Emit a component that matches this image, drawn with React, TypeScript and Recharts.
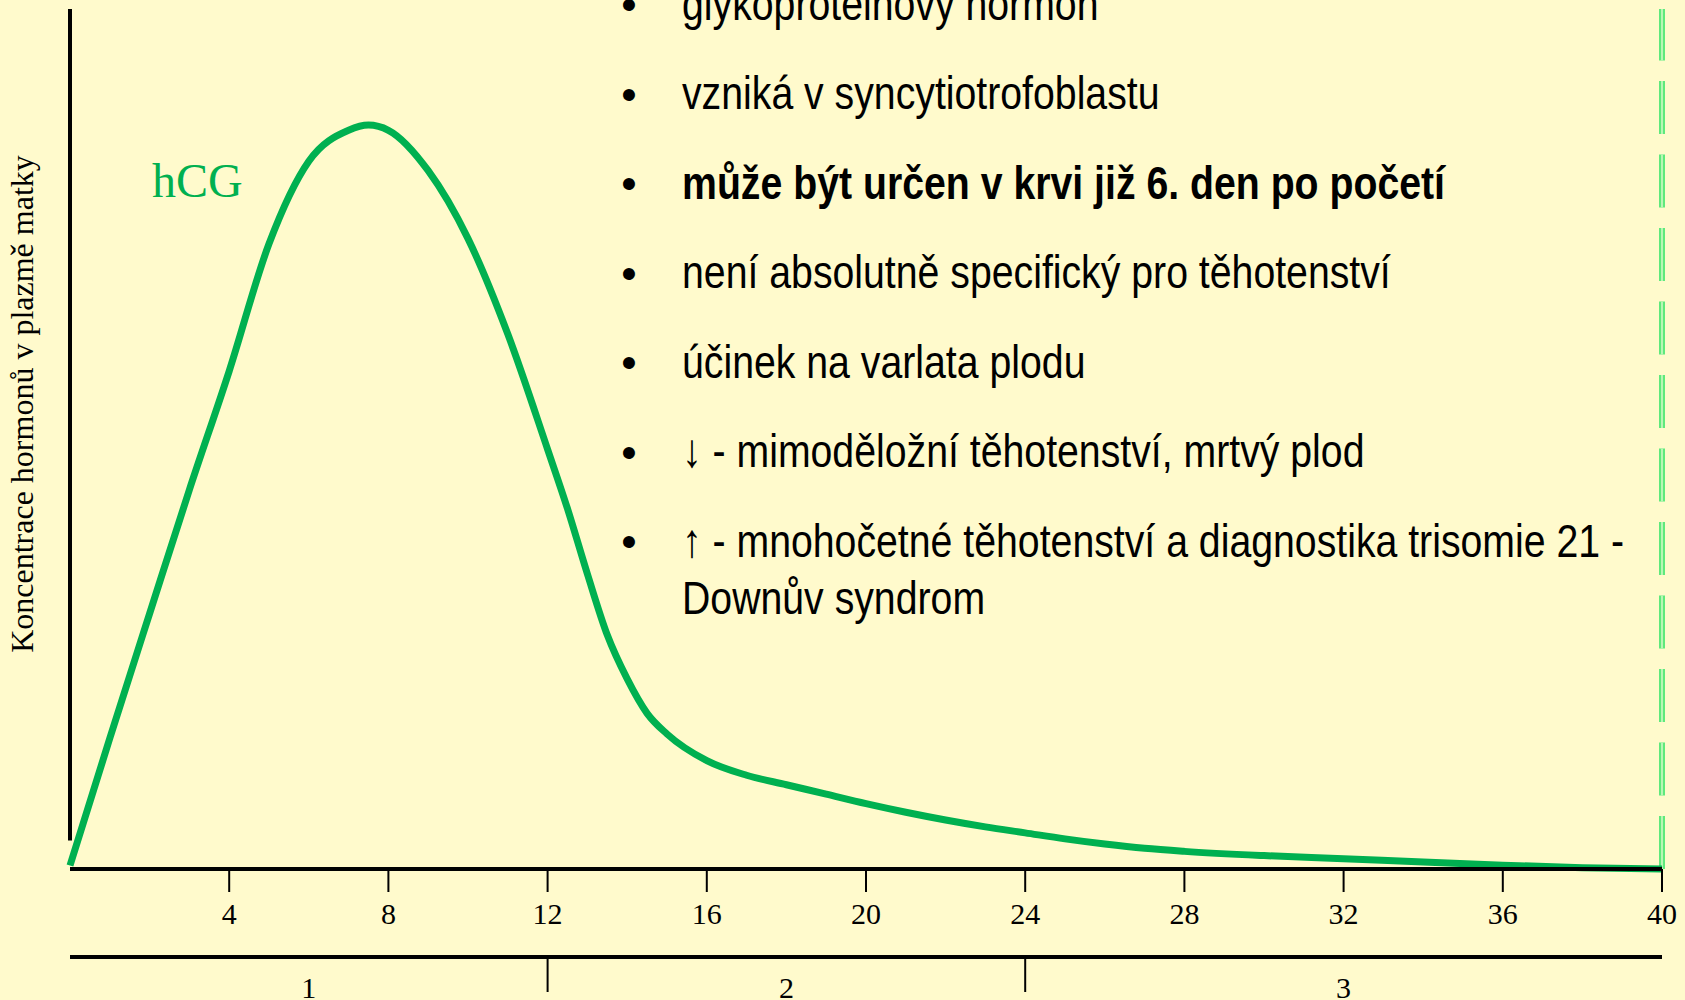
import React from 'react';
import { LineChart, Line, XAxis, YAxis, ReferenceLine, Customized } from 'recharts';

// Gestational week (x) and hCG concentration in arbitrary units (y, 0–100)
const weeks = [0, 1, 2, 3, 4, 5, 6, 7, 7.5, 8, 9, 10, 11, 12, 12.5, 13, 13.5, 14, 14.5, 15, 16, 17, 18, 19, 20, 21, 22, 23, 24, 25, 26, 27, 28, 30, 32, 34, 36, 38, 40];
const hcgLevels = [0.4, 15.2, 29.7, 44.1, 57.9, 72.7, 82.3, 85.9, 86.5, 85.9, 81.2, 73.3, 62.2, 48.8, 41.9, 34.3, 27.2, 22.1, 18.1, 15.7, 12.6, 10.9, 9.8, 8.7, 7.6, 6.6, 5.7, 4.9, 4.2, 3.5, 2.9, 2.4, 2.05, 1.56, 1.2, 0.8, 0.45, 0.15, 0];

const weekTicks = [4, 8, 12, 16, 20, 24, 28, 32, 36, 40];
const trimesterBoundaries = [12, 24];
const trimesterMidpoints = [6, 18, 32];
const trimesterNames = ['1', '2', '3'];

const seriesLabel = 'hCG';
const yAxisTitle = 'Koncentrace hormonů v plazmě matky';
const bulletLines = [
  'glykoproteinový hormon',
  'vzniká v syncytiotrofoblastu',
  'může být určen v krvi již 6. den po početí',
  'není absolutně specifický pro těhotenství',
  'účinek na varlata plodu',
  '↓ - mimoděložní těhotenství, mrtvý plod',
  '↑ - mnohočetné těhotenství a diagnostika trisomie 21 -',
];
const bulletContinuation = 'Downův syndrom';
const boldBulletIndex = 2;

const chartData = weeks.map((w, i) => ({ week: w, hcg: hcgLevels[i] }));

const GREEN = '#00B050';
const BG = '#FFFACC';
const SANS = "'Liberation Sans', Arial, sans-serif";
const SERIF = "'Liberation Serif', 'Times New Roman', serif";

const TrimesterTick = (props: any) => {
  const { x, y, payload } = props;
  const v = payload.value;
  if (trimesterBoundaries.includes(v)) {
    return <line x1={x} x2={x} y1={y} y2={y + 35} stroke="#000" strokeWidth={2} />;
  }
  const idx = trimesterMidpoints.indexOf(v);
  if (idx < 0) return null;
  return (
    <text x={x} y={y + 41} textAnchor="middle" fontFamily={SERIF} fontSize={30} fill="#000">
      {trimesterNames[idx]}
    </text>
  );
};

const Annotations = () => {
  const textX = 682;
  const bulletX = 629;
  const firstBaseline = 20;
  const step = 89.5;
  const narrow = 0.835;
  return (
    <g>
      <text x={152} y={197} fontFamily={SERIF} fontSize={48} fill={GREEN}>
        {seriesLabel}
      </text>
      <text
        x={33}
        y={404}
        transform="rotate(-90, 33, 404)"
        textAnchor="middle"
        fontFamily={SERIF}
        fontSize={32}
        fill="#000"
      >
        {yAxisTitle}
      </text>
      {bulletLines.map((line, i) => (
        <text
          key={'b' + i}
          x={bulletX}
          y={firstBaseline + i * step}
          textAnchor="middle"
          fontFamily={SANS}
          fontSize={44}
          fill="#000"
        >
          •
        </text>
      ))}
      <g transform={`translate(${textX} 0) scale(${narrow} 1)`}>
        {bulletLines.map((line, i) => (
          <text
            key={'t' + i}
            x={0}
            y={firstBaseline + i * step}
            fontFamily={SANS}
            fontSize={47}
            fontWeight={i === boldBulletIndex ? 'bold' : 'normal'}
            fill="#000"
          >
            {line}
          </text>
        ))}
        <text x={0} y={firstBaseline + (bulletLines.length - 1) * step + 57} fontFamily={SANS} fontSize={47} fill="#000">
          {bulletContinuation}
        </text>
      </g>
    </g>
  );
};

export default function App() {
  const allTriTicks = [...trimesterMidpoints, ...trimesterBoundaries].sort((a, b) => a - b);
  return (
    <div
      style={{
        position: 'absolute',
        left: 0,
        top: 0,
        width: 1685,
        height: 1000,
        overflow: 'hidden',
        background: BG,
      }}
    >
      <LineChart
        width={1685}
        height={1000}
        data={chartData}
        margin={{ top: 9, right: 23, bottom: 0, left: 70 }}
      >
        <XAxis
          dataKey="week"
          type="number"
          domain={[0, 40]}
          ticks={weekTicks}
          interval={0}
          height={88}
          axisLine={{ stroke: '#000', strokeWidth: 4 }}
          tickLine={{ stroke: '#000', strokeWidth: 2 }}
          tickSize={23}
          tickMargin={11}
          tick={{ fill: '#000', fontSize: 30, fontFamily: SERIF }}
        />
        <XAxis
          xAxisId="tri"
          dataKey="week"
          type="number"
          domain={[0, 40]}
          ticks={allTriTicks}
          interval={0}
          height={43}
          axisLine={{ stroke: '#000', strokeWidth: 4 }}
          tickLine={false}
          tickSize={0}
          tickMargin={0}
          tick={<TrimesterTick />}
        />
        <YAxis hide type="number" domain={[0, 100]} />
        <ReferenceLine
          segment={[{ x: 0, y: 3.3 }, { x: 0, y: 100 }]}
          stroke="#000"
          strokeWidth={4}
          ifOverflow="visible"
        />
        <ReferenceLine x={40} stroke="#5FE97C" strokeWidth={6} strokeDasharray="53 20.5" />
        <ReferenceLine x={40} stroke="#B8F6B4" strokeWidth={2} strokeDasharray="53 20.5" />
        <Line
          type="monotone"
          dataKey="hcg"
          stroke={GREEN}
          strokeWidth={7}
          dot={false}
          activeDot={false}
          isAnimationActive={false}
        />
        <Customized component={<Annotations />} />
      </LineChart>
    </div>
  );
}
